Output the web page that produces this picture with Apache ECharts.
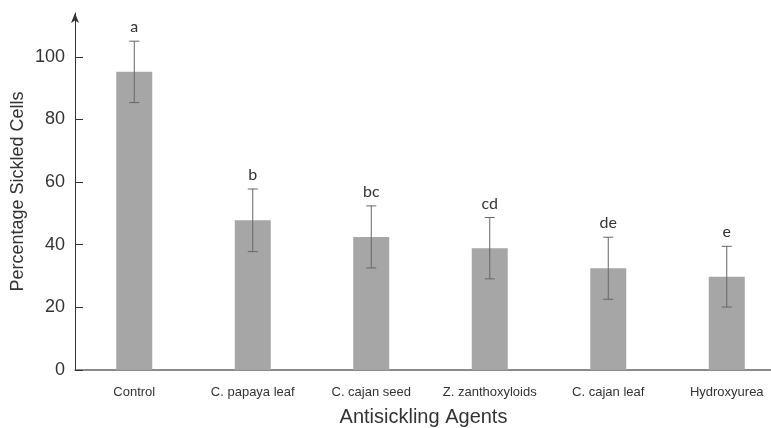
<!DOCTYPE html>
<html><head><meta charset="utf-8">
<script src="https://cdn.jsdelivr.net/npm/echarts@6/dist/echarts.min.js"></script>
<style>html,body{margin:0;padding:0;background:#fff}#c{width:771px;height:428px}</style>
</head><body><div id="c"></div>
<script>
const categories = ['Control','C. papaya leaf','C. cajan seed','Z. zanthoxyloids','C. cajan leaf','Hydroxyurea'];
const means = [95.2, 47.8, 42.5, 38.9, 32.5, 29.8];
const errors = [9.8, 10.0, 9.9, 9.8, 9.9, 9.7];
const letters = ['a','b','bc','cd','de','e'];
const yTicks = [0,20,40,60,80,100];

const chart = echarts.init(document.getElementById('c'));
chart.setOption({
  animation:false,
  grid:{left:75, top:13, width:711, bottom:58, outerBoundsMode:'none', containLabel:false},
  xAxis:{
    type:'category', data:categories,
    name:'Antisickling Agents', nameLocation:'middle', nameGap:37,
    nameTextStyle:{fontFamily:'Liberation Sans', fontSize:20, color:'#333', padding:[0,14,0,0]},
    axisLine:{lineStyle:{color:'#666', width:1.5}},
    axisTick:{show:false},
    axisLabel:{fontFamily:'Liberation Sans', fontSize:13, color:'#333', margin:16, interval:0}
  },
  yAxis:{
    type:'value', min:0, max:114, interval:20,
    name:'Percentage Sickled Cells', nameLocation:'middle', nameGap:48, nameMoveOverlap:false,
    nameTextStyle:{fontFamily:'Liberation Sans', fontSize:18, color:'#333'},
    axisLine:{show:true, symbol:['none','arrow'], symbolSize:[6,10], lineStyle:{color:'#333', width:1}},
    axisTick:{show:true, inside:true, length:8, customValues:yTicks, lineStyle:{color:'#333'}},
    axisLabel:{fontFamily:'Liberation Sans', fontSize:18, color:'#333', margin:10, customValues:yTicks},
    splitLine:{show:false}
  },
  series:[
    {type:'bar', data:means, barWidth:36, itemStyle:{color:'#a6a6a6'}},
    {type:'custom', data:means.map((m,i)=>[i,m,errors[i],letters[i]]),
     renderItem:function(params, api){
       const i = api.value(0), m = api.value(1), e = api.value(2);
       const top = api.coord([i, m+e]);
       const bot = api.coord([i, m-e]);
       const hw = 5;
       const st = {stroke:'#666', lineWidth:1};
       return {type:'group', children:[
         {type:'line', shape:{x1:top[0], y1:top[1], x2:bot[0], y2:bot[1]}, style:st},
         {type:'line', shape:{x1:top[0]-hw, y1:top[1], x2:top[0]+hw, y2:top[1]}, style:st},
         {type:'line', shape:{x1:bot[0]-hw, y1:bot[1], x2:bot[0]+hw, y2:bot[1]}, style:st},
         {type:'text', style:{text:letters[params.dataIndex], x:top[0], y:top[1]-6, align:'center', verticalAlign:'bottom',
           font:'16px Lato', fill:'#333'}}
       ]};
     }, z:5}
  ]
});
</script></body></html>
